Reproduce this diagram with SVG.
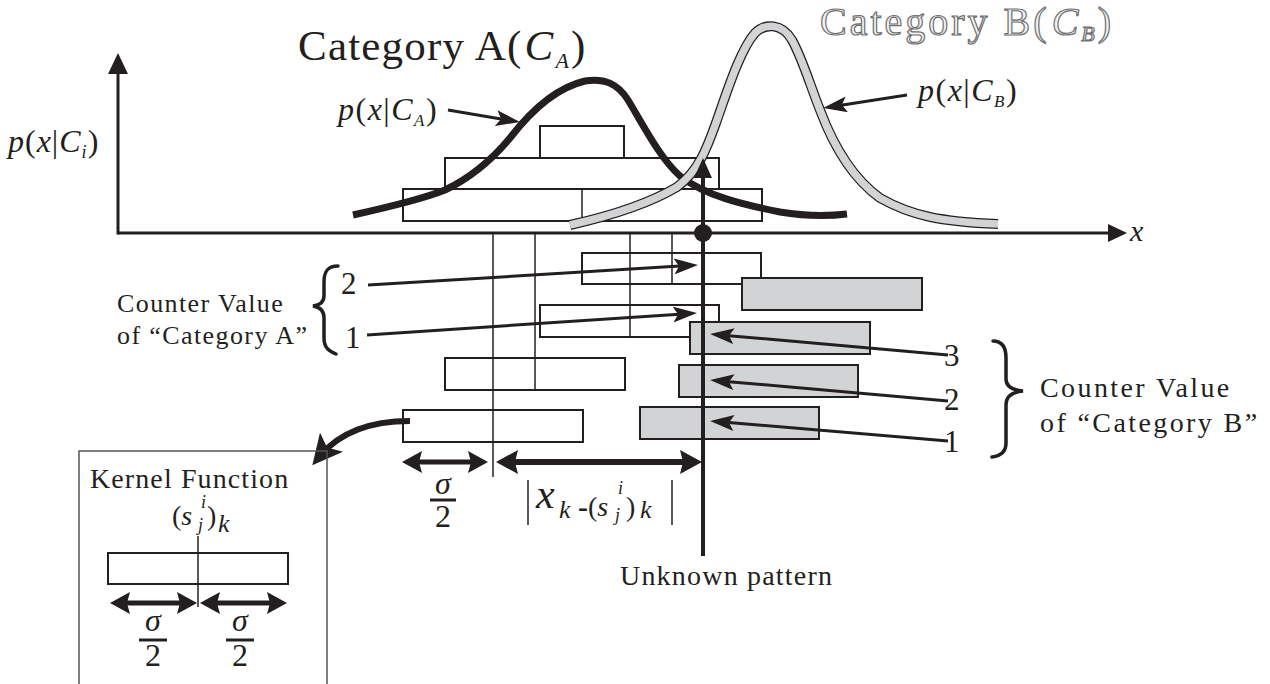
<svg xmlns="http://www.w3.org/2000/svg" width="1270" height="684" viewBox="0 0 1270 684">
<style>
.t{font-family:"Liberation Serif","Times New Roman",serif;fill:#231f20}
.i{font-style:italic}
.box{fill:none;stroke:#231f20;stroke-width:2}
.gbox{fill:#d2d3d5;stroke:#231f20;stroke-width:2}
.thin{stroke:#231f20;stroke-width:1.5;fill:none}
.arr{stroke:#231f20;stroke-width:3;fill:none;marker-end:url(#ah)}
.dbl{stroke:#231f20;stroke-width:6;fill:none;marker-start:url(#dh);marker-end:url(#dh)}
.dbl5{stroke:#231f20;stroke-width:5;fill:none;marker-start:url(#dh2);marker-end:url(#dh2)}
.brace{stroke:#231f20;stroke-width:3.5;fill:none;stroke-linecap:round}
</style>
<defs>
<marker id="ah" markerUnits="userSpaceOnUse" markerWidth="24" markerHeight="16" refX="14" refY="8" orient="auto"><path d="M0,0 L24,8 L0,16 L5,8 z" fill="#231f20"/></marker>
<marker id="dh" markerUnits="userSpaceOnUse" markerWidth="22" markerHeight="24" refX="10" refY="12" orient="auto-start-reverse"><path d="M0,0 L22,12 L0,24 L3,12 z" fill="#231f20"/></marker>
<marker id="dh2" markerUnits="userSpaceOnUse" markerWidth="20" markerHeight="22" refX="9" refY="11" orient="auto-start-reverse"><path d="M0,0 L20,11 L0,22 L3,11 z" fill="#231f20"/></marker>
<marker id="ch" markerUnits="userSpaceOnUse" markerWidth="30" markerHeight="30" refX="18" refY="15" orient="auto"><path d="M0,0 L30,15 L0,30 L7,15 z" fill="#231f20"/></marker>
</defs>
<rect width="1270" height="684" fill="#fff"/>

<g id="axes">
<line x1="118" y1="233" x2="1110" y2="233" stroke="#231f20" stroke-width="3"/>
<polygon points="1127,233 1108,224 1108,242" fill="#231f20"/>
<line x1="118" y1="234.5" x2="118" y2="70" stroke="#231f20" stroke-width="3"/>
<polygon points="118,53 108,74 128,74" fill="#231f20"/>
<text class="t i" x="1130" y="241" font-size="30">x</text>
<text class="t" x="8" y="152" font-size="32" letter-spacing="1"><tspan class="i">p</tspan>(<tspan class="i">x</tspan>|<tspan class="i">C</tspan><tspan class="i" font-size="18" dy="6">i</tspan><tspan dy="-6">)</tspan></text>
</g>

<g id="stack">
<rect class="box" x="540" y="126" width="84" height="32"/>
<rect class="box" x="445" y="158" width="274" height="31"/>
<rect class="box" x="403" y="189" width="359" height="32"/>
<line class="thin" x1="582" y1="189" x2="582" y2="221" stroke-width="2"/>
</g>

<g id="curveA">
<path d="M353,215 C380,209 420,200 445,190 C470,178 490,162 510,138 C530,112 555,88 585,81 C605,78 618,84 628,100 C645,128 660,158 680,176 C705,196 745,205 780,212 C810,217 830,216 847,214" fill="none" stroke="#231f20" stroke-width="7"/>
</g>

<g id="curveB">
<path d="M570,225 C610,216 650,203 677,187 C700,170 708,145 717,120 C727,92 740,50 755,33 C765,23 782,23 792,40 C803,60 810,85 820,110 C835,150 855,180 880,198 C910,215 940,222 998,224" fill="none" stroke="#231f20" stroke-width="10"/>
<path d="M570,225 C610,216 650,203 677,187 C700,170 708,145 717,120 C727,92 740,50 755,33 C765,23 782,23 792,40 C803,60 810,85 820,110 C835,150 855,180 880,198 C910,215 940,222 998,224" fill="none" stroke="#d2d3d5" stroke-width="7.5"/>
</g>

<g id="titleA">
<text class="t" x="298" y="60" font-size="43" letter-spacing="1.2">Category A(<tspan class="i" dx="2">C</tspan><tspan class="i" font-size="22" dx="1" dy="8">A</tspan><tspan dy="-8" dx="1">)</tspan></text>
</g>
<g id="titleB">
<text class="t" x="820" y="35" font-size="40" letter-spacing="3" style="fill:#f2f2f2;stroke:#707070;stroke-width:1.2">Category B(<tspan class="i" dx="2">C</tspan><tspan class="i" font-size="22" dx="0" dy="6">B</tspan><tspan dy="-6">)</tspan></text>
</g>
<g id="labelA">
<text class="t" x="338" y="120" font-size="32" letter-spacing="1.5"><tspan class="i">p</tspan>(<tspan class="i">x</tspan>|<tspan class="i">C</tspan><tspan class="i" font-size="17" dy="6">A</tspan><tspan dy="-6">)</tspan></text>
</g>
<g id="labelB">
<text class="t" x="918" y="101" font-size="32" letter-spacing="1.5"><tspan class="i">p</tspan>(<tspan class="i">x</tspan>|<tspan class="i">C</tspan><tspan class="i" font-size="17" dy="6">B</tspan><tspan dy="-6">)</tspan></text>
</g>

<g id="kernelsA">
<rect class="box" x="582" y="253" width="179" height="31"/>
<rect class="box" x="540" y="305" width="179" height="32"/>
<rect class="box" x="445" y="358" width="180" height="32"/>
<rect class="box" x="403" y="410" width="180" height="32"/>
</g>
<g id="kernelsB">
<rect class="gbox" x="742" y="278" width="180" height="32"/>
<rect class="gbox" x="690" y="322" width="180" height="32"/>
<rect class="gbox" x="679" y="365" width="179" height="32"/>
<rect class="gbox" x="640" y="407" width="179" height="32"/>
</g>
<g id="centerlines">
<line class="thin" x1="493" y1="233" x2="493" y2="477"/>
<line class="thin" x1="535" y1="233" x2="535" y2="390"/>
<line class="thin" x1="630" y1="233" x2="630" y2="337"/>
<line class="thin" x1="672" y1="233" x2="672" y2="284"/>
</g>

<g id="unknown">
<line x1="703" y1="175" x2="703" y2="556" stroke="#231f20" stroke-width="4"/>
<polygon points="703,158 694,178 712,178" fill="#231f20"/>
<circle cx="703" cy="233" r="9" fill="#231f20"/>
<text class="t" x="620" y="585" font-size="28" letter-spacing="1.2">Unknown pattern</text>
</g>

<g id="connectors">
<line class="arr" x1="448" y1="110" x2="510" y2="120.4"/>
<line class="arr" x1="907" y1="95" x2="833" y2="106.5"/>
<line class="arr" x1="368" y1="285" x2="688" y2="265.6"/>
<line class="arr" x1="367" y1="335" x2="687" y2="313.7"/>
<line class="arr" x1="948" y1="355" x2="720" y2="334.9"/>
<line class="arr" x1="948" y1="401" x2="720" y2="380.9"/>
<line class="arr" x1="948" y1="441" x2="720" y2="421.8"/>
<path d="M410,421 C370,421 340,432 320,456" fill="none" stroke="#231f20" stroke-width="6" marker-end="url(#ch)"/>
<line class="dbl5" x1="413" y1="462" x2="477" y2="462"/>
<line class="dbl" x1="508" y1="462" x2="690" y2="462"/>
</g>

<g id="counterA">
<text class="t" x="117" y="312" font-size="26" letter-spacing="1.4">Counter Value</text>
<text class="t" x="117" y="344" font-size="26" letter-spacing="1.4">of “Category A”</text>
<path class="brace" d="M338,266 C327,266 324,272 324,282 L324,296 C324,302 320,305 313,306 C320,307 324,311 324,318 L324,338 C324,348 329,351 336,354"/>
<text class="t" x="341" y="294" font-size="31">2</text>
<text class="t" x="345" y="348" font-size="31">1</text>
</g>

<g id="counterB">
<text class="t" x="944" y="366" font-size="31">3</text>
<text class="t" x="944" y="410" font-size="31">2</text>
<text class="t" x="944" y="452" font-size="31">1</text>
<path class="brace" d="M993,341 C1003,341 1006,348 1006,358 L1006,379 C1006,386 1012,390 1023,391 C1012,392 1006,397 1006,405 L1006,443 C1006,452 1000,456 992,457"/>
<text class="t" x="1040" y="397" font-size="28" letter-spacing="2.4">Counter Value</text>
<text class="t" x="1040" y="432" font-size="28" letter-spacing="2.4">of “Category B”</text>
</g>

<g id="distance">
<text class="t i" x="443" y="494" font-size="32" text-anchor="middle">σ</text>
<line x1="430" y1="500" x2="456" y2="500" stroke="#231f20" stroke-width="3"/>
<text class="t" x="443" y="527" font-size="32" text-anchor="middle">2</text>
<line class="thin" x1="528" y1="480" x2="528" y2="525"/>
<line class="thin" x1="672" y1="480" x2="672" y2="525"/>
<text class="t i" x="536" y="508" font-size="42">x</text>
<text class="t i" x="559" y="518" font-size="26">k</text>
<text class="t" x="578" y="517" font-size="30" font-weight="bold">-</text>
<text class="t" x="588" y="516" font-size="28">(<tspan class="i">s</tspan></text>
<text class="t i" x="618" y="494" font-size="18">i</text>
<text class="t i" x="615" y="521" font-size="18">j</text>
<text class="t" x="626" y="516" font-size="28">)</text>
<text class="t i" x="640" y="518" font-size="26">k</text>
</g>

<g id="kernel">
<rect x="79" y="451" width="248" height="240" fill="none" stroke="#555" stroke-width="1.5"/>
<text class="t" x="90" y="488" font-size="28" letter-spacing="1.1">Kernel Function</text>
<text class="t" x="172" y="525" font-size="28">(<tspan class="i">s</tspan></text>
<text class="t i" x="201" y="508" font-size="18">i</text>
<text class="t i" x="198" y="531" font-size="18">j</text>
<text class="t" x="207" y="525" font-size="28">)</text>
<text class="t i" x="218" y="532" font-size="26">k</text>
<rect class="box" x="108" y="553" width="180" height="31"/>
<line class="thin" x1="198" y1="536" x2="198" y2="607"/>
<line class="dbl5" x1="121" y1="603" x2="186" y2="603"/>
<line class="dbl5" x1="211" y1="603" x2="276" y2="603"/>
<text class="t i" x="153" y="631" font-size="32" text-anchor="middle">σ</text>
<line x1="139" y1="640" x2="167" y2="640" stroke="#231f20" stroke-width="3"/>
<text class="t" x="153" y="666" font-size="32" text-anchor="middle">2</text>
<text class="t i" x="240" y="631" font-size="32" text-anchor="middle">σ</text>
<line x1="226" y1="640" x2="254" y2="640" stroke="#231f20" stroke-width="3"/>
<text class="t" x="240" y="666" font-size="32" text-anchor="middle">2</text>
</g>
</svg>
